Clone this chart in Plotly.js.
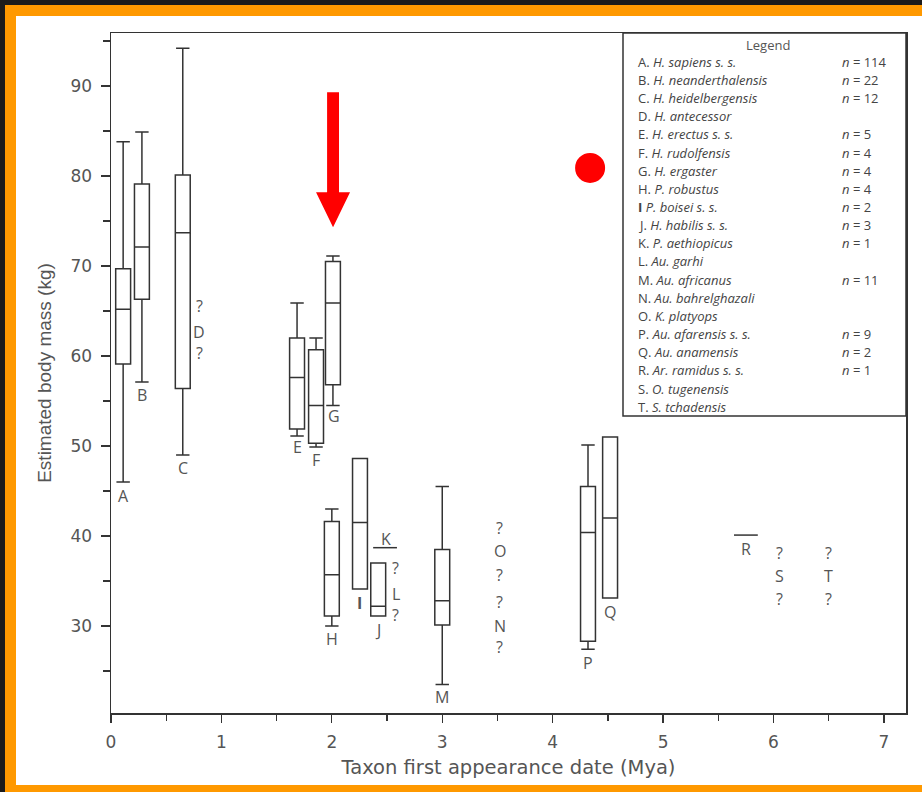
<!DOCTYPE html>
<html>
<head>
<meta charset="utf-8">
<script src="https://cdn.plot.ly/plotly-3.0.1.min.js"></script>
<style>
  html, body { margin:0; padding:0; background:#1b1b1b; }
  #frame { position:absolute; left:0; top:0; width:922px; height:792px; background:#1b1b1b; overflow:hidden; }
  #orange { position:absolute; left:5px; top:5px; width:917px; height:787px; background:#ff9900; }
  #chart { position:absolute; left:16px; top:16px; width:906px; height:769px; background:#fff; }
</style>
</head>
<body>
<div id="frame"><div id="orange"></div><div id="chart"></div></div>
<script>
// ---- Box-plot taxa (first appearance date in Mya, estimated body mass in kg) ----
const boxTaxa   = ["A", "B", "C", "E", "F", "G", "H", "I", "J", "M", "P", "Q"];
const boxDates  = [0.11, 0.28, 0.65, 1.685, 1.857, 2.01, 2.0, 2.255, 2.42, 3.0, 4.32, 4.52];
const boxLower  = [46.0, 57.1, 49.0, 51.1, 49.9, 54.5, 30.0, 34.1, 31.1, 23.5, 27.4, 33.1];
const boxQ1     = [59.1, 66.3, 56.4, 51.9, 50.3, 56.8, 31.1, 34.1, 31.1, 30.1, 28.3, 33.1];
const boxMedian = [65.2, 72.1, 73.7, 57.6, 54.5, 65.9, 35.7, 41.5, 32.2, 32.8, 40.4, 42.0];
const boxQ3     = [69.7, 79.1, 80.1, 62.0, 60.7, 70.5, 41.6, 48.6, 37.0, 38.5, 45.5, 51.0];
const boxUpper  = [83.8, 84.9, 94.2, 65.9, 62.0, 71.1, 43.0, 48.6, 37.0, 45.5, 50.1, 51.0];

// ---- Single-specimen taxa (n = 1) ----
const singleTaxa  = ["K", "R"];
const singleDates = [2.482, 5.75];
const singleMass  = [38.7, 40.1];

// ---- Legend content ----
const legendLetters = ["A.", "B.", "C.", "D.", "E.", "F.", "G.", "H.", "I", "J.", "K.", "L.", "M.", "N.", "O.", "P.", "Q.", "R.", "S.", "T."];
const legendNames = ["H. sapiens s. s.", "H. neanderthalensis", "H. heidelbergensis", "H. antecessor",
  "H. erectus s. s.", "H. rudolfensis", "H. ergaster", "P. robustus", "P. boisei s. s.", "H. habilis s. s.",
  "P. aethiopicus", "Au. garhi", "Au. africanus", "Au. bahrelghazali", "K. platyops", "Au. afarensis s. s.",
  "Au. anamensis", "Ar. ramidus s. s.", "O. tugenensis", "S. tchadensis"];
const legendN = ["114", "22", "12", "", "5", "4", "4", "4", "2", "3", "1", "", "11", "", "", "9", "2", "1", "", ""];

// ---- Axis tick labels ----
const xTickVals = [0, 1, 2, 3, 4, 5, 6, 7];
const yTickVals = [30, 40, 50, 60, 70, 80, 90];

const ink = "#333";

const traces = [
  {
    type: "box",
    name: "taxa",
    x: boxDates,
    q1: boxQ1, median: boxMedian, q3: boxQ3,
    lowerfence: boxLower, upperfence: boxUpper,
    width: 0.135,
    whiskerwidth: 0.9,
    boxpoints: false,
    fillcolor: "rgba(255,255,255,0)",
    line: { color: ink, width: 1.5 },
    text: boxTaxa,
    showlegend: false,
    hoverinfo: "skip"
  },
  {
    type: "scatter",
    mode: "markers",
    x: singleDates,
    y: singleMass,
    text: singleTaxa,
    marker: { symbol: "line-ew", size: 17, line: { color: ink, width: 1.5 } },
    showlegend: false,
    hoverinfo: "skip"
  }
];

// ---- Letter labels on the plot (placed next to each taxon) ----
const plotLabels = [
  ["A", 0.11, 44.4], ["B", 0.28, 55.7], ["C", 0.65, 47.5],
  ["?", 0.80, 65.5], ["D", 0.80, 62.7], ["?", 0.80, 60.3],
  ["E", 1.685, 49.9], ["F", 1.857, 48.4], ["G", 2.02, 53.3],
  ["H", 2.0, 28.6], ["<b>I</b>", 2.255, 32.6], ["J", 2.42, 29.5], ["K", 2.49, 39.7],
  ["?", 2.58, 36.4], ["L", 2.58, 33.6], ["?", 2.58, 31.2],
  ["M", 3.0, 22.1],
  ["?", 3.52, 40.9], ["O", 3.52, 38.3], ["?", 3.52, 35.7], ["?", 3.52, 32.7], ["N", 3.52, 30.0], ["?", 3.52, 27.7],
  ["P", 4.32, 25.9], ["Q", 4.52, 31.6], ["R", 5.75, 38.6],
  ["?", 6.05, 38.1], ["S", 6.05, 35.6], ["?", 6.05, 33.0],
  ["?", 6.50, 38.1], ["T", 6.50, 35.6], ["?", 6.50, 33.0]
];

const annotations = plotLabels.map(([t, x, y]) => ({
  text: t, x: x, y: y, xref: "x", yref: "y", showarrow: false,
  xanchor: "center", yanchor: "middle",
  font: { family: "Open Sans, DejaVu Sans, sans-serif", size: 16, color: "#555" }
}));

// paper coordinate helpers (absolute page pixels -> paper)
const PX0 = 111, PX1 = 906, PY0 = 33, PY1 = 713;
const px = v => (v - PX0) / (PX1 - PX0);
const py = v => (PY1 - v) / (PY1 - PY0);

annotations.push({
  text: "Legend", x: px(768), y: py(45), xref: "paper", yref: "paper", showarrow: false,
  xanchor: "center", yanchor: "middle",
  font: { family: "Open Sans, sans-serif", size: 13, color: "#555" }
});
legendNames.forEach((nm, i) => {
  const yy = py(61.7 + 18.16 * i);
  const lead = legendLetters[i] === "I" ? "<b>I</b>" : legendLetters[i];
  annotations.push({
    text: lead + " <i>" + nm + "</i>", x: px(636), y: yy, xref: "paper", yref: "paper",
    showarrow: false, xanchor: "left", yanchor: "middle",
    font: { family: "Open Sans, sans-serif", size: 13, color: "#444" }
  });
  if (legendN[i] !== "") {
    annotations.push({
      text: "<i>n</i> = " + legendN[i], x: px(840), y: yy, xref: "paper", yref: "paper",
      showarrow: false, xanchor: "left", yanchor: "middle",
      font: { family: "Open Sans, sans-serif", size: 13, color: "#444" }
    });
  }
});

const shapes = [
  // legend box
  { type: "rect", xref: "paper", yref: "paper", x0: px(623), x1: px(906), y0: py(416), y1: 1,
    line: { color: ink, width: 1.5 }, fillcolor: "rgba(255,255,255,0)" },
  // red arrow (highlight)
  { type: "path", xref: "x", yref: "y",
    path: "M 1.957 89.3 L 2.065 89.3 L 2.065 78.2 L 2.165 78.2 L 2.011 74.3 L 1.857 78.2 L 1.957 78.2 Z",
    fillcolor: "#ff0000", line: { width: 0 } },
  // red dot (highlight)
  { type: "circle", xref: "x", yref: "y", xsizemode: "pixel", ysizemode: "pixel",
    xanchor: 4.339, yanchor: 80.9, x0: -15, x1: 15, y0: -15, y1: 15,
    fillcolor: "#ff0000", line: { width: 0 } }
];

const layout = {
  width: 906, height: 769,
  margin: { l: 95, r: 16, t: 17, b: 72 },
  paper_bgcolor: "#ffffff", plot_bgcolor: "#ffffff",
  showlegend: false,
  boxmode: "overlay",
  xaxis: {
    range: [0, 7.2], tickvals: xTickVals, ticktext: xTickVals.map(String),
    ticks: "outside", ticklen: 8, tickwidth: 1.3, tickcolor: ink,
    ticklabelstandoff: 5,
    minor: { dtick: 0.5, tick0: 0, ticks: "outside", ticklen: 6, tickwidth: 1.3, tickcolor: ink },
    showline: true, linecolor: ink, linewidth: 1.5, mirror: true,
    showgrid: false, zeroline: false,
    tickfont: { family: "DejaVu Sans, sans-serif", size: 17, color: "#555" },
    title: { text: "Taxon first appearance date (Mya)", standoff: 9,
      font: { family: "DejaVu Sans, sans-serif", size: 19.5, color: "#555" } }
  },
  yaxis: {
    range: [20.33, 95.89], tickvals: yTickVals, ticktext: yTickVals.map(String),
    ticks: "outside", ticklen: 9, tickwidth: 1.3, tickcolor: ink,
    ticklabelstandoff: 5,
    minor: { dtick: 5, tick0: 0, ticks: "outside", ticklen: 7, tickwidth: 1.3, tickcolor: ink },
    showline: true, linecolor: ink, linewidth: 1.5, mirror: true,
    showgrid: false, zeroline: false,
    tickfont: { family: "DejaVu Sans, sans-serif", size: 17, color: "#555" },
    title: { text: "Estimated body mass (kg)", standoff: 14,
      font: { family: "Liberation Sans, Arial, sans-serif", size: 19, color: "#555" } }
  },
  annotations: annotations,
  shapes: shapes
};

Plotly.newPlot("chart", traces, layout, { displayModeBar: false, staticPlot: true });
</script>
</body>
</html>
